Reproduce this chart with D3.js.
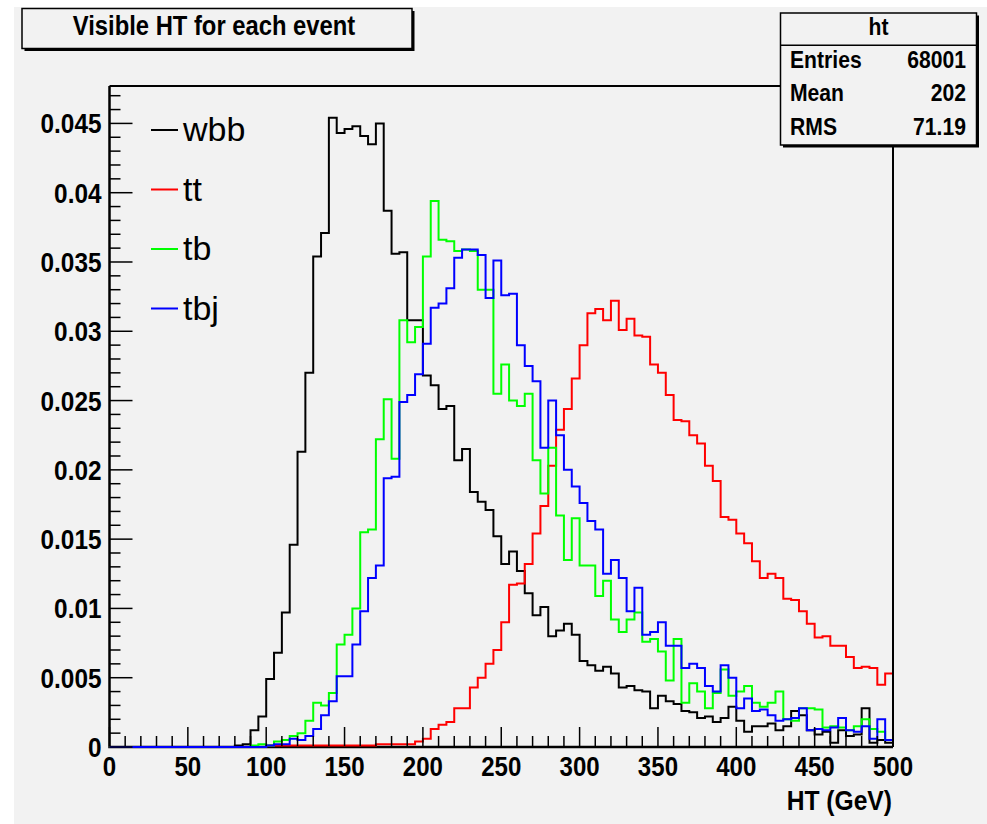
<!DOCTYPE html>
<html>
<head>
<meta charset="utf-8">
<script src="https://cdn.jsdelivr.net/npm/d3@7"></script>
<style>
  body { margin: 0; background: #fff; }
  svg { display: block; }
  text { font-family: "Liberation Sans", Arial, Helvetica, sans-serif; }
</style>
</head>
<body>
<div id="chart"></div>
<script>
// HT histogram, 100 bins of 5 GeV from 0 to 500 (normalised)
const binEdges = d3.range(0, 505, 5)

const wbb = [
  0, 0, 0, 0, 0, 0, 0, 0, 0, 0,
  0, 0, 0, 0, 0, 0, 0.0001, 0.0002, 0.0012, 0.0022,
  0.0049, 0.0068, 0.0097, 0.0146, 0.0213, 0.0270, 0.0354, 0.0371, 0.0454, 0.0443,
  0.0446, 0.0448, 0.0441, 0.0435, 0.0450, 0.0387, 0.0356, 0.0357, 0.0308, 0.0308,
  0.0268, 0.0261, 0.0244, 0.0246, 0.0207, 0.0215, 0.0184, 0.0177, 0.0171, 0.0152,
  0.0132, 0.0141, 0.0127, 0.0111, 0.0095, 0.0101, 0.0080, 0.0084, 0.0089, 0.0081,
  0.0062, 0.0059, 0.0055, 0.0058, 0.0053, 0.0043, 0.0044, 0.0041, 0.0040, 0.0028,
  0.0037, 0.0033, 0.0031, 0.0026, 0.0025, 0.0021, 0.0022, 0.0018, 0.0021, 0.0029,
  0.0019, 0.0011, 0.0015, 0.0015, 0.0017, 0.0012, 0.0015, 0.0026, 0.0023, 0.0012,
  0.0009, 0.0011, 0.0003, 0.0012, 0.0008, 0.0009, 0.0028, 0.0003, 0.0005, 0.0003
]

const tt = [
  0, 0, 0, 0, 0, 0, 0, 0, 0, 0,
  0, 0, 0, 0, 0, 0, 0, 0, 0, 0,
  0.0001, 0.0001, 0.0001, 0.0001, 0.0001, 0.0001, 0.0001, 0.0001, 0.0001, 0.0001,
  0.0001, 0.0001, 0.0001, 0.0001, 0.0002, 0.0002, 0.0002, 0.0002, 0.0002, 0.0004,
  0.0006, 0.0013, 0.0016, 0.0018, 0.0028, 0.0028, 0.0043, 0.0050, 0.0060, 0.0070,
  0.0090, 0.0117, 0.0118, 0.0132, 0.0154, 0.0174, 0.0203, 0.0229, 0.0244, 0.0266,
  0.0290, 0.0313, 0.0316, 0.0308, 0.0322, 0.0301, 0.0309, 0.0297, 0.0296, 0.0276,
  0.0270, 0.0254, 0.0236, 0.0235, 0.0225, 0.0219, 0.0203, 0.0192, 0.0166, 0.0164,
  0.0154, 0.0147, 0.0134, 0.0122, 0.0125, 0.0122, 0.0107, 0.0106, 0.0098, 0.0089,
  0.0079, 0.0080, 0.0073, 0.0073, 0.0065, 0.0057, 0.0058, 0.0057, 0.0045, 0.0053
]

const tb = [
  0, 0, 0, 0, 0, 0, 0, 0, 0, 0,
  0, 0, 0, 0, 0, 0, 0, 0, 0.0001, 0.0002,
  0.0001, 0.0004, 0.0005, 0.0008, 0.0010, 0.0019, 0.0032, 0.0030, 0.0039, 0.0074,
  0.0081, 0.0100, 0.0155, 0.0157, 0.0222, 0.0251, 0.0208, 0.0308, 0.0292, 0.0303,
  0.0354, 0.0394, 0.0366, 0.0365, 0.0358, 0.0359, 0.0358, 0.0330, 0.0330, 0.0255,
  0.0276, 0.0250, 0.0246, 0.0255, 0.0207, 0.0183, 0.0216, 0.0167, 0.0135, 0.0165,
  0.0131, 0.0131, 0.0109, 0.0120, 0.0092, 0.0083, 0.0092, 0.0097, 0.0076, 0.0078,
  0.0069, 0.0048, 0.0078, 0.0032, 0.0046, 0.0040, 0.0028, 0.0039, 0.0056, 0.0037,
  0.0040, 0.0044, 0.0032, 0.0029, 0.0032, 0.0040, 0.0020, 0.0019, 0.0028, 0.0028,
  0.0027, 0.0014, 0.0015, 0.0014, 0.0012, 0.0015, 0.0020, 0.0013, 0.0011, 0.0005
]

const tbj = [
  0, 0, 0, 0, 0, 0, 0, 0, 0, 0,
  0, 0, 0, 0, 0, 0, 0, 0, 0, 0,
  0.0001, 0.0002, 0.0002, 0.0006, 0.0005, 0.0008, 0.0013, 0.0023, 0.0033, 0.0051,
  0.0051, 0.0074, 0.0098, 0.0122, 0.0131, 0.0194, 0.0195, 0.0249, 0.0254, 0.0269,
  0.0291, 0.0317, 0.0320, 0.0331, 0.0353, 0.0359, 0.0359, 0.0355, 0.0324, 0.0351,
  0.0326, 0.0327, 0.0290, 0.0275, 0.0264, 0.0216, 0.0250, 0.0225, 0.0200, 0.0188,
  0.0176, 0.0163, 0.0157, 0.0125, 0.0135, 0.0122, 0.0098, 0.0115, 0.0081, 0.0083,
  0.0090, 0.0073, 0.0073, 0.0057, 0.0060, 0.0057, 0.0044, 0.0040, 0.0059, 0.0050,
  0.0028, 0.0035, 0.0026, 0.0027, 0.0023, 0.0019, 0.0020, 0.0021, 0.0028, 0.0012,
  0.0013, 0.0012, 0.0014, 0.0021, 0.0012, 0.0011, 0.0015, 0.0006, 0.0020, 0.0005
]

const seriesNames = ["wbb", "tt", "tb", "tbj"]
const seriesColors = ["#000000", "#ff0000", "#00ff00", "#0000ff"]
const seriesValues = [wbb, tt, tb, tbj]

const yTickValues = [0, 0.005, 0.01, 0.015, 0.02, 0.025, 0.03, 0.035, 0.04, 0.045]
const xTickValues = [0, 50, 100, 150, 200, 250, 300, 350, 400, 450, 500]

const statsTitle = "ht"
const statsRows = [["Entries", "68001"], ["Mean", "202"], ["RMS", "71.19"]]
const titleText = "Visible HT for each event"
const xAxisTitle = "HT (GeV)"

const width = 987
const height = 824
const frame = { left: 109.5, right: 893, top: 86, bottom: 747 }

const svg = d3.select("#chart")
  .append("svg")
  .attr("width", width)
  .attr("height", height)

// canvas background
svg.append("rect")
  .attr("x", 14).attr("y", 7)
  .attr("width", width - 14).attr("height", height - 7)
  .attr("fill", "#f2f2f2")

const x = d3.scaleLinear().domain([0, 500]).range([frame.left, frame.right])
const y = d3.scaleLinear().domain([0, 0.0477]).range([frame.bottom, frame.top])

// condensed text helper (the original fonts look squeezed)
function label(g, tx, ty, str, opts) {
  const o = Object.assign({ size: 28, weight: "bold", anchor: "start", sx: 0.86 }, opts)
  return g.append("text")
    .attr("transform", `translate(${tx},${ty}) scale(${o.sx},1)`)
    .attr("font-size", o.size)
    .attr("font-weight", o.weight)
    .attr("text-anchor", o.anchor)
    .attr("fill", "#000")
    .text(str)
}

// frame + axis lines first, histograms are drawn over them
svg.append("path")
  .attr("d", `M${frame.left},${frame.top}H${frame.right}V${frame.bottom}`)
  .attr("fill", "none")
  .attr("stroke", "#000")
  .attr("stroke-width", 2)

svg.append("path")
  .attr("d", `M${frame.left},${frame.top}V${frame.bottom}H${frame.right}`)
  .attr("fill", "none")
  .attr("stroke", "#000")
  .attr("stroke-width", 2.5)

svg.append("clipPath").attr("id", "plotclip")
  .append("rect")
  .attr("x", frame.left).attr("y", frame.top - 2)
  .attr("width", frame.right - frame.left - 1).attr("height", frame.bottom - frame.top + 4)

// histograms as step outlines
const plot = svg.append("g").attr("clip-path", "url(#plotclip)")

function stepPath(values) {
  const p = d3.path()
  p.moveTo(x(binEdges[0]), y(0))
  values.forEach((v, i) => {
    p.lineTo(x(binEdges[i]), y(v))
    p.lineTo(x(binEdges[i + 1]), y(v))
  })
  return p.toString()
}

seriesValues.forEach((vals, i) => {
  plot.append("path")
    .attr("d", stepPath(vals))
    .attr("fill", "none")
    .attr("stroke", seriesColors[i])
    .attr("stroke-width", 2)
    .attr("stroke-linejoin", "miter")
})

// y axis ticks + labels
const yAxisG = svg.append("g")
const yMinor = d3.range(0, 48).map(d => d * 0.001)
yAxisG.selectAll("line.minor")
  .data(yMinor)
  .join("line")
  .attr("class", "minor")
  .attr("x1", frame.left).attr("x2", (d, i) => frame.left + (i % 5 === 0 ? 23 : 11))
  .attr("y1", d => y(d)).attr("y2", d => y(d))
  .attr("stroke", "#000").attr("stroke-width", 1.5)

const yFmt = d => d === 0 ? "0" : String(+d.toFixed(3))
yTickValues.forEach(v => {
  label(yAxisG, 101.5, y(v) + 10, yFmt(v), { anchor: "end", sx: 0.87 })
})

// x axis ticks + labels
const xAxisG = svg.append("g")
xAxisG.selectAll("line.tick")
  .data(d3.range(0, 510, 10))
  .join("line")
  .attr("class", "tick")
  .attr("x1", d => x(d)).attr("x2", d => x(d))
  .attr("y1", frame.bottom - 1)
  .attr("y2", d => frame.bottom - (d % 50 === 0 ? 20 : 11))
  .attr("stroke", "#000").attr("stroke-width", 1.5)

xTickValues.forEach(v => {
  label(xAxisG, x(v), 776, String(v), { anchor: "middle", sx: 0.86 })
})
label(xAxisG, 892, 810, xAxisTitle, { anchor: "end", sx: 0.88, size: 28 })

// legend
const legend = svg.append("g")
seriesNames.forEach((name, i) => {
  const ly = 130 + i * 59.5
  legend.append("line")
    .attr("x1", 151).attr("x2", 178)
    .attr("y1", ly).attr("y2", ly)
    .attr("stroke", seriesColors[i]).attr("stroke-width", 2)
  label(legend, 183, ly + 11, name, { weight: "normal", size: 34, sx: 1.0 })
})

// title box
const titleG = svg.append("g")
titleG.append("rect")
  .attr("x", 24.5).attr("y", 11).attr("width", 390).attr("height", 40)
  .attr("fill", "#000")
titleG.append("rect")
  .attr("x", 22).attr("y", 8.5).attr("width", 390).attr("height", 40)
  .attr("fill", "#f2f2f2").attr("stroke", "#000").attr("stroke-width", 1.5)
label(titleG, 214, 35, titleText, { anchor: "middle", sx: 0.85 })

// stats box
const statsG = svg.append("g")
const sb = { x: 780.5, y: 13, w: 196, h: 132 }
statsG.append("rect")
  .attr("x", sb.x + 2.5).attr("y", sb.y + 2.5).attr("width", sb.w).attr("height", sb.h)
  .attr("fill", "#000")
statsG.append("rect")
  .attr("x", sb.x).attr("y", sb.y).attr("width", sb.w).attr("height", sb.h)
  .attr("fill", "#f2f2f2").attr("stroke", "#000").attr("stroke-width", 1.5)
statsG.append("line")
  .attr("x1", sb.x).attr("x2", sb.x + sb.w)
  .attr("y1", 45.3).attr("y2", 45.3)
  .attr("stroke", "#000").attr("stroke-width", 1.5)
label(statsG, sb.x + sb.w / 2, 35, statsTitle, { anchor: "middle", size: 23, sx: 0.92 })
statsRows.forEach((r, i) => {
  const ry = 68 + i * 33.3
  label(statsG, 790, ry, r[0], { size: 23, sx: 0.92 })
  label(statsG, 966, ry, r[1], { size: 23, sx: 0.92, anchor: "end" })
})
</script>
</body>
</html>
